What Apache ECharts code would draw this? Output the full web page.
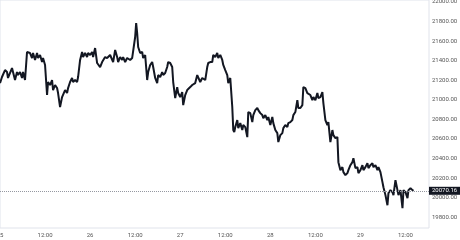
<!DOCTYPE html>
<html>
<head>
<meta charset="utf-8">
<script src="https://cdn.jsdelivr.net/npm/echarts@6/dist/echarts.min.js"></script>
<style>
html,body{margin:0;padding:0;background:#fff;}
#chart{width:460px;height:240px;}
</style>
</head>
<body>
<div id="chart"></div>
<script>
// minutes since day 25, 00:00
const times = [0,32,80,112,128,192,208,240,272,288,320,352,368,400,432,480,512,528,560,592,608,640,672,688,720,752,768,800,832,848,880,912,928,960,992,1008,1040,1072,1088,1120,1152,1168,1200,1232,1248,1280,1312,1328,1360,1392,1408,1440,1472,1488,1520,1552,1568,1600,1632,1648,1680,1712,1760,1808,1840,1872,1888,1920,1952,1968,2000,2032,2080,2112,2128,2160,2176,2192,2208,2240,2272,2288,2320,2352,2368,2400,2432,2448,2480,2512,2528,2560,2592,2608,2640,2672,2688,2720,2752,2768,2800,2832,2848,2880,2912,2928,2960,2992,3008,3040,3072,3088,3120,3152,3168,3200,3232,3248,3280,3312,3328,3360,3392,3408,3440,3472,3488,3520,3552,3568,3600,3632,3648,3680,3712,3728,3744,3760,3792,3808,3840,3872,3888,3920,3952,3968,4000,4032,4048,4080,4112,4128,4160,4192,4208,4240,4272,4288,4320,4352,4368,4400,4432,4448,4480,4512,4528,4560,4592,4608,4640,4672,4688,4720,4752,4768,4800,4832,4848,4880,4912,4928,4960,4992,5008,5040,5072,5088,5120,5152,5168,5200,5232,5248,5280,5312,5328,5360,5392,5408,5440,5472,5488,5520,5552,5568,5600,5632,5648,5680,5712,5728,5760,5792,5808,5840,5872,5888,5920,5952,5968,6000,6032,6048,6080,6112,6128,6160,6192,6208,6240,6272,6288,6320,6352,6368,6400,6432,6448,6480,6512,6528,6560,6592,6608];
const prices = [21171,21233,21304,21284,21223,21325,21284,21202,21284,21253,21284,21223,21284,21202,21489,21478,21427,21478,21407,21478,21427,21458,21386,21427,21356,21049,21182,21151,21202,21100,21151,21120,21069,20926,21028,21018,21100,21069,21120,21182,21223,21182,21202,21182,21233,21407,21489,21437,21478,21437,21478,21458,21489,21437,21529,21376,21356,21335,21386,21376,21437,21427,21458,21386,21509,21437,21386,21437,21407,21437,21386,21427,21407,21427,21407,21642,21785,21683,21540,21478,21489,21427,21458,21202,21284,21356,21386,21335,21223,21171,21253,21233,21284,21253,21274,21335,21386,21376,21335,21182,21018,21130,21069,21028,21079,20946,21049,21100,21120,21130,21151,21151,21171,21253,21233,21182,21223,21233,21202,21335,21376,21386,21386,21458,21437,21478,21427,21458,21407,21356,21304,21253,21171,21223,20926,20691,20670,20721,20793,20711,20762,20691,20742,20721,20619,20875,20864,20772,20844,20895,20916,20895,20864,20844,20813,20844,20793,20824,20742,20824,20762,20691,20660,20568,20639,20660,20711,20742,20721,20762,20772,20793,20844,20875,20997,20916,20916,20946,21130,21120,21069,21049,21049,20997,21028,20997,21069,21018,21028,21079,20967,20793,20742,20772,20568,20691,20639,20609,20619,20363,20281,20312,20261,20230,20251,20281,20332,20363,20404,20302,20312,20251,20281,20332,20281,20312,20353,20302,20332,20353,20312,20332,20281,20312,20261,20159,20107,20026,19923,20046,20077,20056,20026,20179,20077,20026,20077,19893,20077,20056,19995,20077,20097,20077,20070.16];
const xTickLabels = ['25','12:00','26','12:00','27','12:00','28','12:00','29','12:00'];
const yTicks = [19800,20000,20200,20400,20600,20800,21000,21200,21400,21600,21800,22000];

const lastPrice = prices[prices.length - 1];
const data = times.map((t, i) => [t, prices[i]]);

const chart = echarts.init(document.getElementById('chart'), null, {renderer: 'canvas'});
chart.setOption({
  animation: false,
  backgroundColor: '#ffffff',
  grid: {
    left: 0, top: 0, right: 31, bottom: 12,
    containLabel: false,
    outerBoundsMode: 'none',
    show: true, borderColor: '#e0e3eb', borderWidth: 1, backgroundColor: 'transparent'
  },
  xAxis: {
    type: 'value',
    min: 0, max: 6856, interval: 720,
    axisLine: {show: false},
    axisTick: {show: false},
    splitLine: {show: false},
    axisLabel: {
      fontSize: 6, color: '#555', margin: 4, fontFamily: 'Roboto',
      showMinLabel: true, showMaxLabel: false, hideOverlap: false,
      formatter: v => xTickLabels[Math.round(v / 720)] || ''
    }
  },
  yAxis: {
    type: 'value',
    position: 'right',
    min: 19690, max: 22020,
    axisLine: {show: false},
    axisTick: {show: false},
    splitLine: {show: false},
    axisLabel: {
      customValues: yTicks,
      fontSize: 6, color: '#555', margin: 3, fontFamily: 'Roboto',
      formatter: v => Number(v).toFixed(2)
    }
  },
  series: [{
    type: 'line',
    data: data,
    showSymbol: false,
    lineStyle: {color: '#131722', width: 2},
    markLine: {
      silent: true,
      symbol: ['none', 'none'],
      lineStyle: {color: '#9598a1', type: 'dotted', width: 1},
      label: {
        position: 'end',
        distance: 0,
        formatter: () => lastPrice.toFixed(2),
        backgroundColor: '#131722',
        color: '#ffffff',
        fontSize: 6,
        fontFamily: 'Roboto',
        padding: [1, 3, 1, 3]
      },
      data: [{yAxis: lastPrice}]
    }
  }]
});
</script>
</body>
</html>
